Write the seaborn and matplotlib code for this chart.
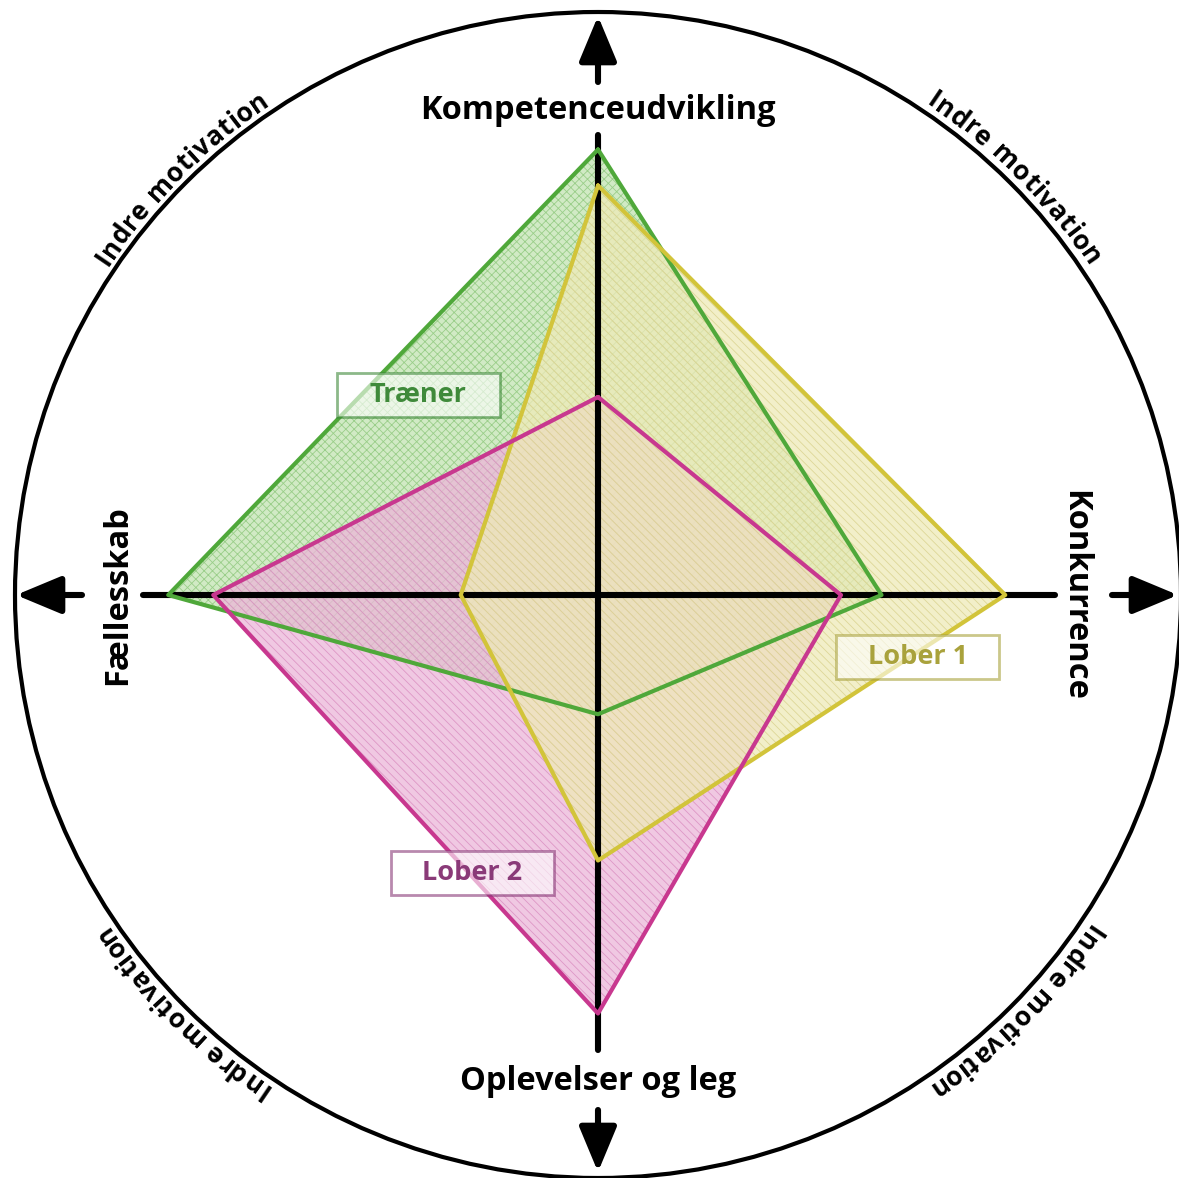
import numpy as np
import pandas as pd
import seaborn as sns
import matplotlib.pyplot as plt
from matplotlib.patches import Circle, FancyBboxPatch
from matplotlib.font_manager import FontProperties

# axes: top, right, bottom, left
axis_labels = ['Kompetenceudvikling', 'Konkurrence', 'Oplevelser og leg', 'Fællesskab']
axis_angles = [90, 0, -90, 180]

series_names = ['Træner', 'Lober 1', 'Lober 2']
traener = [9.9, 6.3, 2.65, 9.55]
lober1 = [9.1, 9.05, 5.9, 3.05]
lober2 = [4.4, 5.4, 9.3, 8.55]

arc_label = 'Indre motivation'
arc_centers = [135, 45, -45, -135]

edge_colors = ['#4fa83a', '#d2c43a', '#c8388f']
fill_colors = ['#c2e4b2', '#eeeab8', '#ecb6d9']
hatch_colors = ['#8cc77a', '#d8d08a', '#d98bbf']
hatches = ['xxxx', '\\\\\\\\', '\\\\\\\\']
text_colors = ['#3f8a3a', '#a9a23c', '#8a3a78']
box_pos = [(-4.0, 4.45), (7.1, -1.38), (-2.8, -6.18)]
draw_order = [0, 2, 1]

sns.set_theme(style='white')
plt.rcParams['font.family'] = ['Open Sans', 'DejaVu Sans']
plt.rcParams['hatch.linewidth'] = 0.6
plt.rcParams['text.color'] = 'black'

px = 45.0  # pixels per unit
fig = plt.figure(figsize=(11.79, 11.78), dpi=100)
ax = fig.add_axes([0, 0, 1, 1])
ax.set_xlim(-598 / px, (1179 - 598) / px)
ax.set_ylim(-(1178 - 595) / px, 595 / px)
ax.set_aspect('equal')
ax.axis('off')

# outer circle
ax.add_patch(Circle((0, 0), 583 / px, fill=False, lw=3, color='black', zorder=1))

series = [traener, lober1, lober2]
ang = np.deg2rad(axis_angles)

# filled polygons
for z, i in enumerate(draw_order):
    xs = np.array(series[i]) * np.cos(ang)
    ys = np.array(series[i]) * np.sin(ang)
    ax.fill(xs, ys, facecolor=fill_colors[i], alpha=0.75, lw=0, zorder=2 + z)
    ax.fill(xs, ys, facecolor='none', hatch=hatches[i], edgecolor=hatch_colors[i],
            lw=0, alpha=0.8, zorder=2 + z)

# outlines
for i in range(3):
    xs = np.array(series[i]) * np.cos(ang)
    ys = np.array(series[i]) * np.sin(ang)
    df = pd.DataFrame({'x': np.append(xs, xs[0]), 'y': np.append(ys, ys[0])})
    sns.lineplot(data=df, x='x', y='y', sort=False, estimator=None, ax=ax,
                 color=edge_colors[i], lw=3, zorder=7 + i)

# axis lines
lw_axis = 4.4
ax.plot([0, 0], [-1050 / px + 595 / px, (595 - 135) / px], color='black', lw=lw_axis, zorder=6)
ax.plot([-(598 - 143) / px, (1055 - 598) / px], [0, 0], color='black', lw=lw_axis, zorder=6)

arrow_kw = dict(arrowstyle='-|>,head_length=1.2,head_width=0.5', lw=lw_axis,
                color='black', mutation_scale=23, shrinkA=0, shrinkB=0)
ax.annotate('', xy=(0, (595 - 16) / px), xytext=(0, (595 - 82) / px), arrowprops=arrow_kw)
ax.annotate('', xy=(0, -(1172 - 595) / px), xytext=(0, -(1110 - 595) / px), arrowprops=arrow_kw)
ax.annotate('', xy=(-(598 - 16) / px, 0), xytext=(-(598 - 82) / px, 0), arrowprops=arrow_kw)
ax.annotate('', xy=((1178 - 598) / px, 0), xytext=((1112 - 598) / px, 0), arrowprops=arrow_kw)

# axis labels
lab_fs = 23.5
ax.text(0, (595 - 110) / px, axis_labels[0], ha='center', va='center', fontsize=lab_fs, fontweight='bold')
ax.text((1075 - 598) / px, 0, axis_labels[1], ha='center', va='center', rotation=-90,
        fontsize=lab_fs, fontweight='bold')
ax.text(0, -(1082 - 595) / px, axis_labels[2], ha='center', va='center', fontsize=lab_fs, fontweight='bold')
ax.text(-(598 - 118) / px, 0, axis_labels[3], ha='center', va='center', rotation=90,
        fontsize=lab_fs, fontweight='bold')

# series label boxes
for i, name in enumerate(series_names):
    cx, cy = box_pos[i]
    w, h = 163 / px, 44 / px
    ax.add_patch(FancyBboxPatch((cx - w / 2, cy - h / 2), w, h, boxstyle='square,pad=0',
                                facecolor='white', alpha=0.6, edgecolor='none', zorder=10))
    ax.add_patch(FancyBboxPatch((cx - w / 2, cy - h / 2), w, h, boxstyle='square,pad=0',
                                facecolor='none', edgecolor=text_colors[i], lw=2, alpha=0.6, zorder=11))
    ax.text(cx, cy, name, ha='center', va='center', fontsize=19.5, fontweight='bold',
            color=text_colors[i], zorder=12)

# curved "Indre motivation" labels following the circle clockwise
fp = FontProperties(family=['Open Sans', 'DejaVu Sans'], weight='bold', size=19)
renderer = fig.canvas.get_renderer()


def char_width(ch):
    if ch == ' ':
        return 8.0
    w, _, _ = renderer.get_text_width_height_descent(ch, fp, ismath=False)
    return w + 0.6  # a little tracking


widths = [char_width(ch) for ch in arc_label]
edges = np.concatenate([[0], np.cumsum(widths)])
mids = (edges[:-1] + edges[1:]) / 2
total = edges[-1]

r_base = 590.0
for c in arc_centers:
    start = np.deg2rad(c) + (total / 2) / r_base
    for ch, mid in zip(arc_label, mids):
        phi = start - mid / r_base
        x = r_base / px * np.cos(phi)
        y = r_base / px * np.sin(phi)
        ax.text(x, y, ch, fontproperties=fp, ha='center', va='baseline',
                rotation=np.rad2deg(phi) - 90, rotation_mode='anchor')

fig.savefig('out.png', dpi=100)
